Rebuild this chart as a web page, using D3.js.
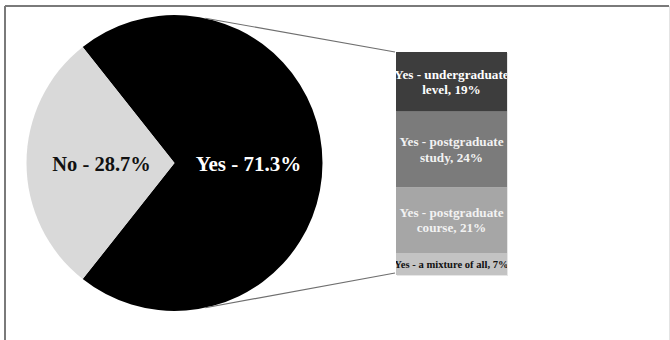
<!DOCTYPE html>
<html>
<head>
<meta charset="utf-8">
<script src="https://cdn.jsdelivr.net/npm/d3@7"></script>
<style>
  html, body { margin: 0; padding: 0; background: #fff; }
  svg { display: block; }
</style>
</head>
<body>
<svg id="chart" width="670" height="340"></svg>
<script>
// ---- data ----
const pieCategories = ["Yes", "No"];
const pieValues = [71.3, 28.7];
const pieLabels = ["Yes - 71.3%", "No - 28.7%"];

const barCategories = ["Yes - undergraduate level", "Yes - postgraduate study", "Yes - postgraduate course", "Yes - a mixture of all"];
const barValues = [19, 24, 21, 7];
const barLabelLines = [
  ["Yes - undergraduate", "level, 19%"],
  ["Yes - postgraduate", "study, 24%"],
  ["Yes - postgraduate", "course, 21%"],
  ["Yes - a mixture of all, 7%"]
];

// ---- styles ----
const pieColors = ["#000000", "#d9d9d9"];
const pieTextColors = ["#ffffff", "#111111"];
const barColors = ["#3d3d3d", "#7b7b7b", "#a6a6a6", "#c3c3c3"];
const barTextColors = ["#ffffff", "#f2f2f2", "#f2f2f2", "#111111"];
const barFontSizes = [13.2, 13.2, 13.2, 10.6];

const svg = d3.select("#chart");

// frame
svg.append("line").attr("x1", 5).attr("y1", 6).attr("x2", 669).attr("y2", 6)
  .attr("stroke", "#7a7a7a").attr("stroke-width", 2);
svg.append("line").attr("x1", 5).attr("y1", 6).attr("x2", 5).attr("y2", 340)
  .attr("stroke", "#7a7a7a").attr("stroke-width", 2);
svg.append("line").attr("x1", 669.5).attr("y1", 6).attr("x2", 669.5).attr("y2", 340)
  .attr("stroke", "#e4e4e4").attr("stroke-width", 1);

// ---- pie ----
const cx = 174.5, cy = 163, r = 148;
const yesFrac = pieValues[0] / d3.sum(pieValues);
const start = Math.PI / 2 - yesFrac * Math.PI;
const pie = d3.pie().sort(null).startAngle(start).endAngle(start + 2 * Math.PI);
const arcs = pie(pieValues);
const arc = d3.arc().innerRadius(0).outerRadius(r);

const pg = svg.append("g").attr("transform", `translate(${cx},${cy})`);
pg.selectAll("path").data(arcs).join("path")
  .attr("d", arc)
  .attr("fill", (d, i) => pieColors[i]);

pg.selectAll("text").data(arcs).join("text")
  .attr("x", (d, i) => i === 0 ? 74 : -73)
  .attr("y", 8)
  .attr("text-anchor", "middle")
  .attr("font-family", "'Liberation Serif', 'DejaVu Serif', serif")
  .attr("font-weight", "bold")
  .attr("font-size", (d, i) => i === 0 ? 21 : 20.5)
  .attr("fill", (d, i) => pieTextColors[i])
  .text((d, i) => pieLabels[i]);

// ---- bar ----
const barX = 396, barW = 111;
const y = d3.scaleLinear().domain([0, d3.sum(barValues)]).range([52, 275]);
const cum = d3.cumsum(barValues);
const segs = barValues.map((v, i) => ({ v, i, y0: cum[i] - v, y1: cum[i] }));

svg.append("defs").append("clipPath").attr("id", "barclip")
  .append("rect").attr("x", barX).attr("y", y(0)).attr("width", barW).attr("height", y(d3.sum(barValues)) - y(0));

// faint shadow
svg.append("rect").attr("x", barX + 1).attr("y", y(0) + 1).attr("width", barW)
  .attr("height", y(d3.sum(barValues)) - y(0)).attr("fill", "#e6e6e6");

const bg = svg.append("g");
bg.selectAll("rect").data(segs).join("rect")
  .attr("x", barX)
  .attr("y", d => y(d.y0))
  .attr("width", barW)
  .attr("height", d => y(d.y1) - y(d.y0))
  .attr("fill", d => barColors[d.i]);

const tg = svg.append("g").attr("clip-path", "url(#barclip)");
segs.forEach(d => {
  const lines = barLabelLines[d.i];
  const mid = (y(d.y0) + y(d.y1)) / 2;
  const lh = 15.5;
  const fs = barFontSizes[d.i];
  lines.forEach((t, k) => {
    tg.append("text")
      .attr("x", barX + barW / 2)
      .attr("y", mid + (k - (lines.length - 1) / 2) * lh + fs * 0.35)
      .attr("text-anchor", "middle")
      .attr("font-family", "'Liberation Serif', 'DejaVu Serif', serif")
      .attr("font-weight", "bold")
      .attr("font-size", fs)
      .attr("fill", barTextColors[d.i])
      .text(t);
  });
});

// ---- connector lines ----
const a = 12 * Math.PI / 180;
const topPt = [cx + r * Math.sin(a), cy - r * Math.cos(a)];
const botPt = [cx + r * Math.sin(a), cy + r * Math.cos(a)];
svg.append("line").attr("x1", topPt[0]).attr("y1", topPt[1]).attr("x2", barX - 1).attr("y2", y(0))
  .attr("stroke", "#6f6f6f").attr("stroke-width", 1.2);
svg.append("line").attr("x1", botPt[0]).attr("y1", botPt[1]).attr("x2", barX - 1).attr("y2", y(d3.sum(barValues)) - 2)
  .attr("stroke", "#6f6f6f").attr("stroke-width", 1.2);
</script>
</body>
</html>
